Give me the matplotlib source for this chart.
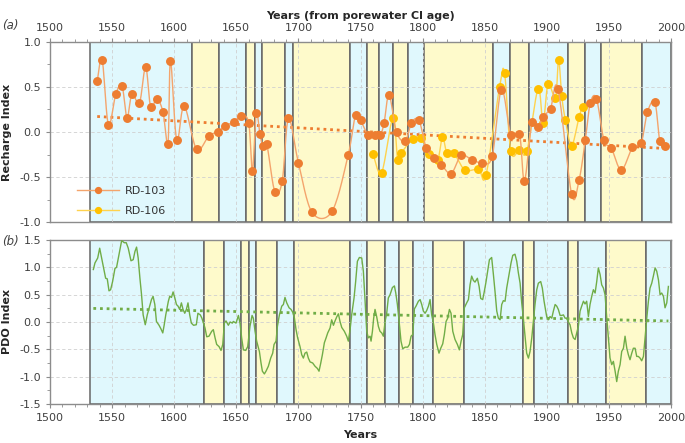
import numpy as np
import matplotlib
matplotlib.use("Agg")
import matplotlib.pyplot as plt

# --- recharge index, RD-103 (years from porewater Cl age) ---
rd103_year = [1538, 1542, 1547, 1553, 1558, 1562, 1566, 1572, 1577, 1581, 1586, 1591,
              1595, 1597, 1602, 1608, 1618, 1628, 1635, 1641, 1648, 1654, 1660, 1663,
              1666, 1669, 1671.5, 1674.5, 1681, 1687, 1692, 1700, 1711, 1727, 1740, 1746,
              1750, 1756, 1762, 1766, 1769, 1773, 1779, 1786, 1791, 1797, 1803, 1809,
              1815, 1823, 1831, 1840, 1848, 1856, 1863.5, 1871, 1878, 1882, 1888, 1893,
              1897, 1903, 1909, 1920, 1926, 1931, 1935, 1940, 1946, 1952, 1960, 1969,
              1976, 1981, 1987, 1991, 1995]
rd103_val = [0.56, 0.80, 0.08, 0.42, 0.51, 0.16, 0.42, 0.32, 0.72, 0.28, 0.37, 0.22,
             -0.13, 0.79, -0.09, 0.29, -0.19, -0.04, 0.00, 0.07, 0.11, 0.18, 0.10, -0.43,
             0.21, -0.02, -0.16, -0.13, -0.66, -0.54, 0.15, -0.34, -0.89, -0.88, -0.26, 0.19,
             0.13, -0.03, -0.03, -0.03, 0.10, 0.41, 0.00, -0.10, 0.10, 0.13, -0.18, -0.29,
             -0.36, -0.46, -0.26, -0.31, -0.34, -0.27, 0.47, -0.03, -0.02, -0.54, 0.11, 0.06,
             0.17, 0.26, 0.48, -0.69, -0.53, -0.09, 0.32, 0.37, -0.09, -0.18, -0.42, -0.17,
             -0.12, 0.22, 0.33, -0.10, -0.16]

# --- recharge index, RD-106 ---
rd106_year = [1760, 1767, 1776, 1780, 1783, 1792, 1799, 1805, 1812, 1816, 1819.5, 1825,
              1834, 1845, 1851, 1862, 1866, 1871, 1878, 1884, 1893, 1897, 1901, 1907,
              1909.5, 1912, 1915, 1920, 1926, 1929]
rd106_val = [-0.24, -0.45, 0.15, -0.31, -0.23, -0.08, -0.07, -0.24, -0.31, -0.055, -0.23, -0.23,
             -0.42, -0.41, -0.48, 0.50, 0.65, -0.21, -0.20, -0.21, 0.48, 0.10, 0.53, 0.38,
             0.80, 0.40, 0.13, -0.15, 0.17, 0.28]

# --- PDO index reconstruction ---
pdo_year = [1534.9, 1536.2, 1538.4, 1540.0, 1541.6, 1543.0, 1544.8, 1546.1, 1547.5, 1548.8,
            1550.4, 1552.3, 1553.6, 1555.5, 1557.7, 1559.8, 1561.4, 1563.0, 1565.2, 1567.0,
            1568.4, 1569.7, 1571.0, 1572.4, 1573.7, 1575.0, 1576.7, 1578.3, 1579.9, 1581.7,
            1583.0, 1584.4, 1585.7, 1587.8, 1589.2, 1590.8, 1591.9, 1593.2, 1595.3, 1596.4,
            1597.8, 1599.1, 1600.4, 1601.8, 1603.1, 1604.4, 1605.8, 1607.1, 1608.5, 1609.8,
            1611.1, 1612.5, 1613.8, 1615.6, 1617.8, 1619.1, 1621.0, 1622.3, 1624.8, 1626.2,
            1628.0, 1630.2, 1631.5, 1632.9, 1634.2, 1636.1, 1637.7, 1639.1, 1640.4, 1641.7,
            1643.6, 1645.0, 1646.8, 1647.6, 1649.8, 1651.7, 1653.0, 1654.3, 1655.7, 1657.6,
            1659.2, 1661.0, 1662.7, 1663.7, 1665.1, 1666.4, 1668.6, 1669.9, 1671.0, 1672.6,
            1673.9, 1675.8, 1677.7, 1679.3, 1680.4, 1682.0, 1683.1, 1684.7, 1686.6, 1687.9,
            1689.2, 1690.6, 1692.5, 1694.1, 1695.4, 1696.8, 1698.1, 1699.4, 1701.3, 1702.7,
            1704.0, 1705.3, 1706.7, 1708.0, 1709.4, 1711.5, 1713.4, 1715.3, 1716.6, 1718.0,
            1719.3, 1720.9, 1722.3, 1723.6, 1725.5, 1726.8, 1728.2, 1729.5, 1730.8, 1732.2,
            1733.5, 1734.9, 1737.0, 1738.9, 1740.2, 1741.6, 1742.9, 1744.8, 1746.1, 1747.5,
            1749.1, 1751.0, 1752.3, 1753.7, 1755.0, 1756.3, 1757.7, 1758.5, 1759.6, 1760.6,
            1761.7, 1763.0, 1764.4, 1765.7, 1767.1, 1768.4, 1769.8, 1771.1, 1772.4, 1773.8,
            1775.7, 1777.3, 1778.4, 1779.7, 1781.1, 1782.6, 1784.0, 1785.9, 1788.0, 1789.4,
            1790.7, 1792.1, 1793.4, 1794.7, 1796.6, 1798.0, 1799.3, 1800.6, 1802.0, 1803.3,
            1804.7, 1806.0, 1807.3, 1808.7, 1810.0, 1811.4, 1813.2, 1814.6, 1816.2, 1817.5,
            1818.9, 1820.2, 1821.6, 1822.9, 1824.3, 1826.1, 1828.0, 1829.6, 1831.0, 1832.3,
            1833.6, 1835.5, 1836.9, 1838.2, 1839.5, 1840.9, 1842.2, 1844.1, 1845.5, 1846.8,
            1848.4, 1849.7, 1851.1, 1852.4, 1853.8, 1855.6, 1857.0, 1858.3, 1859.7, 1861.0,
            1862.4, 1863.7, 1865.0, 1866.4, 1867.7, 1869.6, 1871.2, 1872.6, 1874.4, 1875.8,
            1877.1, 1878.5, 1879.8, 1881.1, 1882.5, 1883.8, 1885.2, 1886.5, 1887.9, 1889.2,
            1890.5, 1891.9, 1893.2, 1895.1, 1896.4, 1897.8, 1899.9, 1901.3, 1902.6, 1904.0,
            1905.3, 1906.7, 1908.0, 1909.3, 1910.7, 1912.0, 1913.4, 1914.7, 1916.1, 1917.4,
            1918.7, 1920.1, 1921.4, 1922.8, 1924.1, 1925.4, 1926.8, 1928.1, 1929.5, 1930.8,
            1932.1, 1933.5, 1934.8, 1936.2, 1937.5, 1938.9, 1940.2, 1941.5, 1942.9, 1944.2,
            1945.6, 1946.9, 1948.3, 1949.6, 1950.9, 1952.3, 1953.6, 1955.0, 1956.3, 1957.6,
            1959.0, 1960.3, 1961.7, 1963.0, 1964.4, 1965.7, 1967.0, 1968.4, 1969.7, 1971.1,
            1972.4, 1973.7, 1975.1, 1976.4, 1977.8, 1979.1, 1980.5, 1981.8, 1983.1, 1984.5,
            1985.8, 1987.2, 1988.5, 1989.9, 1991.2, 1992.5, 1993.9, 1995.2, 1996.6, 1997.9]
pdo_val = [0.96, 1.08, 1.17, 1.35, 1.17, 1.02, 0.80, 0.79, 0.57, 0.59,
           0.74, 0.98, 1.00, 1.23, 1.49, 1.45, 1.45, 1.35, 1.12, 1.14,
           1.29, 1.37, 1.17, 0.80, 0.50, 0.13, -0.05, 0.13, 0.26, 0.41,
           0.47, 0.32, 0.01, -0.06, -0.12, -0.20, -0.06, 0.13, 0.38, 0.47,
           0.45, 0.55, 0.45, 0.32, 0.29, 0.23, 0.35, 0.23, 0.16, 0.23,
           0.35, 0.13, -0.02, -0.06, -0.05, 0.16, 0.13, 0.07, -0.11, -0.27,
           -0.26, -0.17, -0.14, -0.29, -0.41, -0.45, -0.52, -0.41, -0.02, 0.02,
           -0.06, 0.00, -0.02, 0.01, -0.02, 0.12, -0.02, -0.29, -0.51, -0.52,
           -0.45, -0.08, 0.12, 0.07, -0.17, -0.35, -0.54, -0.75, -0.90, -0.95,
           -0.90, -0.81, -0.66, -0.57, -0.41, -0.35, -0.08, 0.13, 0.29, 0.32,
           0.45, 0.35, 0.26, 0.23, 0.18, 0.07, -0.14, -0.29, -0.45, -0.60,
           -0.66, -0.57, -0.55, -0.66, -0.73, -0.75, -0.81, -0.85, -0.90, -0.75,
           -0.60, -0.38, -0.29, -0.20, -0.11, 0.04, -0.06, 0.02, 0.09, 0.15,
           0.01, -0.10, -0.17, -0.26, -0.35, -0.14, 0.13, 0.44, 0.74, 1.11,
           1.18, 1.17, 0.93, 0.38, -0.17, -0.29, -0.26, -0.35, -0.17, 0.07,
           0.23, 0.10, -0.08, -0.17, -0.20, -0.26, 0.01, 0.16, 0.44, 0.50,
           0.63, 0.66, 0.53, 0.32, 0.01, -0.35, -0.49, -0.46, -0.46, -0.41,
           -0.26, -0.23, 0.24, 0.29, 0.38, 0.41, 0.32, 0.20, 0.16, 0.21,
           0.29, 0.41, 0.13, -0.02, -0.23, -0.41, -0.57, -0.48, -0.40, -0.23,
           0.01, 0.07, 0.23, 0.16, -0.17, -0.32, -0.41, -0.51, -0.35, -0.23,
           0.26, 0.35, 0.41, 0.68, 0.84, 0.76, 0.73, 0.80, 0.65, 0.43,
           0.41, 0.56, 0.74, 0.93, 1.14, 1.18, 0.87, 0.56, 0.20, 0.07,
           0.04, 0.32, 0.39, 0.38, 0.62, 0.87, 1.08, 1.22, 1.24, 1.11,
           0.90, 0.71, 0.35, 0.07, -0.26, -0.57, -0.66, -0.54, -0.29, 0.01,
           0.32, 0.59, 0.71, 0.74, 0.62, 0.38, 0.10, 0.04, 0.10, 0.07,
           0.20, 0.32, 0.29, 0.23, 0.12, 0.12, 0.13, 0.07, 0.07, 0.00,
           -0.05, -0.20, -0.29, -0.32, -0.20, -0.08, 0.20, 0.29, 0.38, 0.33,
           0.38, 0.10, 0.32, 0.47, 0.59, 0.53, 0.74, 0.99, 0.87, 0.68,
           0.62, 0.50, 0.07, -0.29, -0.66, -0.78, -0.72, -0.90, -1.09, -0.90,
           -0.78, -0.54, -0.48, -0.26, -0.48, -0.60, -0.69, -0.57, -0.48, -0.48,
           -0.63, -0.63, -0.66, -0.71, -0.63, -0.29, 0.07, 0.38, 0.62, 0.71,
           0.84, 0.99, 0.93, 0.77, 0.50, 0.53, 0.47, 0.26, 0.35, 0.65]

# phase boundaries (shading alternates, starting with a blue/positive phase)
top_bounds = [1532, 1614, 1636, 1658, 1665, 1671, 1689, 1696, 1741.5, 1755, 1765, 1776,
              1788, 1801, 1857, 1870, 1886, 1917, 1931, 1944, 1977, 2000]
pdo_bounds = [1532, 1624, 1640, 1653.5, 1660.5, 1665.5, 1683, 1696.5, 1741.5, 1755, 1769.5,
              1781, 1792, 1808.5, 1833.5, 1881, 1890, 1917, 1925.5, 1948, 1980, 2000]

BLUE = '#e0f8fd'
YELLOW = '#fefacb'
ORANGE = '#ed7d31'
GOLD = '#ffc000'
GREEN = '#70ad47'
TXT = '#404040'


def smooth(x, y, n=16):
    # catmull-rom style curve through the points (like excel's smoothed line)
    p = np.column_stack([x, y]).astype(float)
    p = np.vstack([p[0], p, p[-1]])
    t = np.linspace(0, 1, n, endpoint=False)[:, None]
    h00 = 2 * t**3 - 3 * t**2 + 1
    h10 = t**3 - 2 * t**2 + t
    h01 = -2 * t**3 + 3 * t**2
    h11 = t**3 - t**2
    seg = []
    for i in range(1, len(p) - 2):
        m1 = (p[i + 1] - p[i - 1]) / 2
        m2 = (p[i + 2] - p[i]) / 2
        seg.append(h00 * p[i] + h10 * m1 + h01 * p[i + 1] + h11 * m2)
    seg.append(p[-2][None, :])
    c = np.vstack(seg)
    return c[:, 0], c[:, 1]


def shade(ax, bounds):
    for i in range(len(bounds) - 1):
        col = BLUE if i % 2 == 0 else YELLOW
        ax.axvspan(bounds[i], bounds[i + 1], facecolor=col, edgecolor='#666666',
                   linewidth=1.1, zorder=1)


def style(ax):
    ax.set_xlim(1500, 2000)
    ax.set_xticks(np.arange(1500, 2001, 50))
    ax.set_xticks(np.arange(1500, 2001, 10), minor=True)
    ax.set_axisbelow('line')
    ax.grid(True, which='major', color='#d0d0d0', linestyle=(0, (4, 3)), linewidth=0.6)
    for s in ax.spines.values():
        s.set_color('#8c8c8c')
        s.set_linewidth(1.0)
    ax.tick_params(which='both', colors='#8c8c8c', labelcolor=TXT, labelsize=8)
    ax.tick_params(which='major', length=3)
    ax.tick_params(which='minor', length=2)


fig = plt.figure(figsize=(6.85, 4.43), dpi=100)
ax1 = fig.add_axes([50 / 685, 1 - 222.3 / 443, 621 / 685, 180.6 / 443])
ax2 = fig.add_axes([50 / 685, 1 - 404 / 443, 621 / 685, 164 / 443])

# (a) recharge index
shade(ax1, top_bounds)
style(ax1)
ax1.set_ylim(-1, 1)
ax1.set_yticks(np.arange(-1, 1.01, 0.5))
ax1.set_yticks(np.arange(-1, 1.01, 0.25), minor=True)
ax1.yaxis.set_major_formatter(matplotlib.ticker.FormatStrFormatter('%.1f'))
ax1.xaxis.tick_top()
ax1.xaxis.set_label_position('top')
ax1.set_xlabel('Years (from porewater Cl age)', fontsize=8, fontweight='bold',
               color='#262626', labelpad=3)
ax1.set_ylabel('Recharge Index', fontsize=8, fontweight='bold', color='#262626', labelpad=5)

k = np.polyfit(rd103_year, rd103_val, 1)
tx = np.array([rd103_year[0], rd103_year[-1]])
ax1.plot(tx, np.polyval(k, tx), color=ORANGE, linestyle=(0, (1, 1.4)), linewidth=2.0, zorder=3)

sx, sy = smooth(rd106_year, rd106_val)
ax1.plot(sx, sy, color='#ffd24d', linewidth=1.0, zorder=4)
ax1.plot(rd106_year, rd106_val, linestyle='none', marker='o', markersize=5.4,
         color=GOLD, zorder=5)
sx, sy = smooth(rd103_year, rd103_val)
ax1.plot(sx, sy, color='#f4a46c', linewidth=1.0, zorder=6)
ax1.plot(rd103_year, rd103_val, linestyle='none', marker='o', markersize=5.4,
         color=ORANGE, zorder=7)

h1 = matplotlib.lines.Line2D([], [], color='#f4a46c', lw=1.0, marker='o', ms=4.2,
                             mfc=ORANGE, mec=ORANGE)
h2 = matplotlib.lines.Line2D([], [], color='#ffd24d', lw=1.0, marker='o', ms=4.2,
                             mfc=GOLD, mec=GOLD)
leg = ax1.legend([h1, h2], ['RD-103', 'RD-106'], loc='center left', frameon=False,
                 fontsize=8, handlelength=3.8, handletextpad=0.5, labelspacing=0.95,
                 borderpad=0, borderaxespad=0, bbox_to_anchor=(0.043, 0.119))
for t in leg.get_texts():
    t.set_color('#333333')

# (b) PDO index
shade(ax2, pdo_bounds)
style(ax2)
ax2.set_ylim(-1.5, 1.5)
ax2.set_yticks(np.arange(-1.5, 1.51, 0.5))
ax2.set_yticks(np.arange(-1.5, 1.51, 0.25), minor=True)
ax2.yaxis.set_major_formatter(matplotlib.ticker.FormatStrFormatter('%.1f'))
ax2.set_xlabel('Years', fontsize=8, fontweight='bold', color='#262626', labelpad=5)
ax2.set_ylabel('PDO Index', fontsize=8, fontweight='bold', color='#262626', labelpad=5)

k2 = np.polyfit(pdo_year, pdo_val, 1)
tx2 = np.array([pdo_year[0], pdo_year[-1]])
ax2.plot(tx2, np.polyval(k2, tx2), color=GREEN, linestyle=(0, (1, 1.4)), linewidth=2.0, zorder=3)
ax2.plot(pdo_year, pdo_val, color=GREEN, linewidth=1.0, zorder=4)

fig.text(2 / 685, 1 - 25 / 443, '(a)', fontsize=8.5, style='italic', color=TXT, va='center')
fig.text(2 / 685, 1 - 241 / 443, '(b)', fontsize=8.5, style='italic', color=TXT, va='center')

fig.savefig('out.png', dpi=100)
